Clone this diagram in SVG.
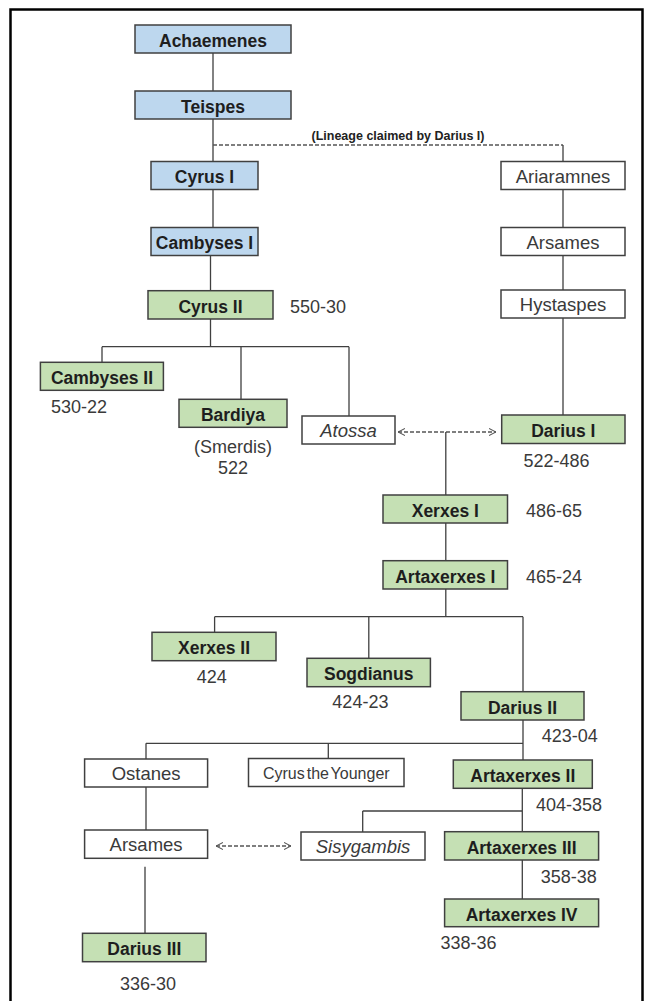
<svg xmlns="http://www.w3.org/2000/svg" width="653" height="1001" viewBox="0 0 653 1001">
<defs>
<style>
.b{fill:#bdd7ee;stroke:#404040;stroke-width:1.5}
.g{fill:#c5e0b4;stroke:#404040;stroke-width:1.5}
.w{fill:#ffffff;stroke:#404040;stroke-width:1.5}
.tb{font-family:"Liberation Sans",Arial,sans-serif;font-weight:bold;font-size:17.5px;fill:#1e1e1e;text-anchor:middle}
.tr{font-family:"Liberation Sans",Arial,sans-serif;font-size:18.5px;fill:#3a3a3a;text-anchor:middle}
.ti{font-family:"Liberation Sans",Arial,sans-serif;font-style:italic;font-size:18.5px;fill:#3a3a3a;text-anchor:middle}
.d{font-family:"Liberation Sans",Arial,sans-serif;font-size:18px;fill:#3a3a3a}
.c{fill:none;stroke:#404040;stroke-width:1.3}
.dash{fill:none;stroke:#555555;stroke-width:1.3;stroke-dasharray:4 2}
</style>
<marker id="chev" viewBox="0 0 8 8" refX="8" refY="4" markerWidth="7" markerHeight="8" markerUnits="userSpaceOnUse" orient="auto-start-reverse">
<path d="M0,0 L8,4 L0,8" fill="none" stroke="#555" stroke-width="1.2"/>
</marker>
</defs>
<rect x="0" y="0" width="653" height="1001" fill="#ffffff"/>
<path d="M10.5,1001 V9.5 H642.5 V1001" fill="none" stroke="#000" stroke-width="2.5"/>

<g id="connectors">
<path class="c" d="M213,53 V91 M213,119 V161 M213,189 V227 M210.5,255 V290.7 M210.5,319 V346.7 M102,346.7 H349 M102,346.7 V362.3 M241,346.7 V399.3 M349,346.7 V416"/>
<path class="dash" d="M213,145 H563"/>
<path class="c" d="M563,145 V161.7 M563,189.5 V227.7 M563,255.5 V290 M563,318 V415"/>
<path class="dash" d="M398,432 H496" marker-start="url(#chev)" marker-end="url(#chev)"/>
<path class="c" d="M445.8,432 V495 M445.8,523 V560.7 M445.8,589 V616.7 M214.6,616.7 H523 M214.6,616.7 V632.3 M368.8,616.7 V658.3 M523,616.7 V691.7"/>
<path class="c" d="M523,720 V760 M146,743.3 H523 M146,743.3 V759 M328.3,743.3 V758.5 M522.3,788.3 V831.7 M362.7,811 H522.3 M362.7,811 V832 M522.3,860 V899 M146,787 V830 M145,866.7 V933.3"/>
<path class="dash" d="M216,846 H291" marker-start="url(#chev)" marker-end="url(#chev)"/>
<text x="398" y="139.5" style="font-family:'Liberation Sans',Arial,sans-serif;font-weight:bold;font-size:12.5px;fill:#222;text-anchor:middle">(Lineage claimed by Darius I)</text>
</g>

<g id="achaemenes"><rect class="b" x="135" y="25" width="156" height="28"/><text class="tb" x="213" y="46.7">Achaemenes</text></g>
<g id="teispes"><rect class="b" x="135" y="91" width="156" height="28"/><text class="tb" x="213" y="112.7">Teispes</text></g>
<g id="cyrus1"><rect class="b" x="151" y="161.5" width="107" height="28"/><text class="tb" x="204.5" y="183.2">Cyrus I</text></g>
<g id="cambyses1"><rect class="b" x="151" y="227.5" width="107" height="28"/><text class="tb" x="204.5" y="249.2">Cambyses I</text></g>

<g id="ariaramnes"><rect class="w" x="501" y="161.5" width="124" height="28"/><text class="tr" x="563" y="182.5">Ariaramnes</text></g>
<g id="arsames1"><rect class="w" x="501" y="227.5" width="124" height="28"/><text class="tr" x="563" y="248.5">Arsames</text></g>
<g id="hystaspes"><rect class="w" x="501" y="290" width="124" height="28"/><text class="tr" x="563" y="311">Hystaspes</text></g>

<g id="cyrus2"><rect class="g" x="148" y="290.7" width="125" height="28.3"/><text class="tb" x="210.5" y="312.5">Cyrus II</text><text class="d" x="290" y="313.2">550-30</text></g>
<g id="cambyses2"><rect class="g" x="40.4" y="362.3" width="123" height="28"/><text class="tb" x="102" y="384">Cambyses II</text><text class="d" x="51" y="412.5">530-22</text></g>
<g id="bardiya"><rect class="g" x="179" y="399.3" width="108" height="28"/><text class="tb" x="233" y="421">Bardiya</text><text class="tr" x="233" y="453.2" style="font-size:18px">(Smerdis)</text><text class="tr" x="233" y="473.8" style="font-size:18px">522</text></g>
<g id="atossa"><rect class="w" x="302" y="416" width="93" height="28"/><text class="ti" x="348.5" y="437">Atossa</text></g>
<g id="darius1"><rect class="g" x="501.7" y="415" width="123.3" height="28.5"/><text class="tb" x="563.3" y="436.9">Darius I</text><text class="d" x="556.5" y="466.5" text-anchor="middle">522-486</text></g>

<g id="xerxes1"><rect class="g" x="383" y="495" width="124.5" height="28"/><text class="tb" x="445.3" y="516.7">Xerxes I</text><text class="d" x="526" y="517.2">486-65</text></g>
<g id="artaxerxes1"><rect class="g" x="383" y="560.7" width="124.5" height="28.3"/><text class="tb" x="445.3" y="582.5">Artaxerxes I</text><text class="d" x="526" y="583.2">465-24</text></g>

<g id="xerxes2"><rect class="g" x="152" y="632.3" width="124" height="28.4"/><text class="tb" x="214" y="654.1">Xerxes II</text><text class="d" x="211.7" y="682.5" text-anchor="middle">424</text></g>
<g id="sogdianus"><rect class="g" x="307" y="658.3" width="123.4" height="28.4"/><text class="tb" x="368.7" y="680.1">Sogdianus</text><text class="d" x="360.4" y="708.2" text-anchor="middle">424-23</text></g>
<g id="darius2"><rect class="g" x="461" y="691.7" width="123" height="28.3"/><text class="tb" x="522.5" y="713.5">Darius II</text><text class="d" x="541.7" y="741.8">423-04</text></g>

<g id="ostanes"><rect class="w" x="84.6" y="759" width="123" height="28"/><text class="tr" x="146.1" y="780">Ostanes</text></g>
<g id="cyrus-younger"><rect class="w" x="248.5" y="758.5" width="155.5" height="28"/><text class="tr" x="326.3" y="778.5" style="font-size:16px;word-spacing:-2.5px">Cyrus the Younger</text></g>
<g id="artaxerxes2"><rect class="g" x="453.3" y="760" width="139" height="28.3"/><text class="tb" x="522.8" y="781.8">Artaxerxes II</text><text class="d" x="536" y="810.8">404-358</text></g>

<g id="arsames2"><rect class="w" x="84.6" y="830" width="123" height="28.3"/><text class="tr" x="146.1" y="851.1">Arsames</text></g>
<g id="sisygambis"><rect class="w" x="301" y="832" width="124" height="28"/><text class="ti" x="363" y="853">Sisygambis</text></g>
<g id="artaxerxes3"><rect class="g" x="444.6" y="831.7" width="154" height="28.3"/><text class="tb" x="521.6" y="853.5">Artaxerxes III</text><text class="d" x="540.8" y="882.5">358-38</text></g>
<g id="artaxerxes4"><rect class="g" x="444.6" y="899" width="154" height="27.7"/><text class="tb" x="521.6" y="920.5">Artaxerxes IV</text><text class="d" x="440.4" y="949.2">338-36</text></g>
<g id="darius3"><rect class="g" x="82.5" y="933.3" width="123.5" height="28.4"/><text class="tb" x="144.3" y="955.1">Darius III</text><text class="d" x="148" y="989.8" text-anchor="middle">336-30</text></g>
</svg>
